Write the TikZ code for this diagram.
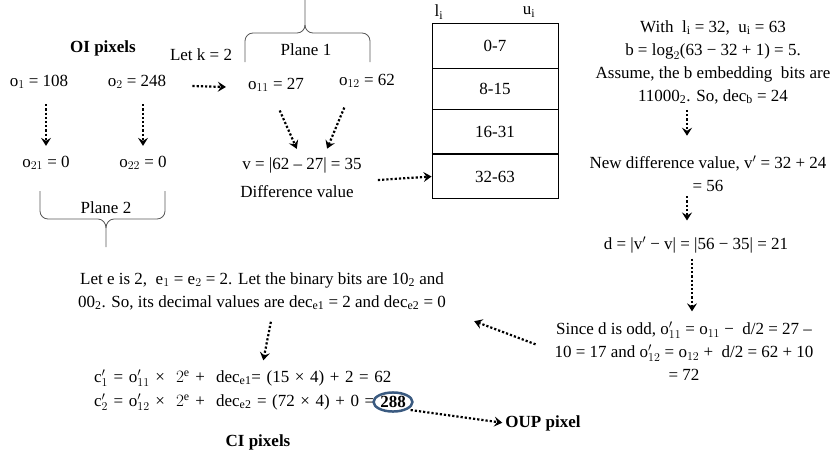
\documentclass[tikz,border=0pt]{standalone}
\usepackage{fontspec}
\setmainfont{Liberation Serif}
\usetikzlibrary{arrows.meta,shapes.geometric}
\definecolor{ringblue}{HTML}{3A5A80}
\newcommand\widesp{\spaceskip=5.6pt\relax}
\begin{document}
\begin{tikzpicture}[x=1pt, y=-1pt,
    txt/.style={inner sep=1pt, align=center, font=\fontsize{17}{23}\selectfont},
    wide/.style={txt, font=\fontsize{17}{23}\selectfont\widesp},
    bold/.style={txt, font=\fontsize{17}{23}\selectfont\bfseries},
    cell/.style={draw, line width=0.9pt, minimum width=126pt, inner sep=0pt, font=\fontsize{17}{23}\selectfont},
    dotarr/.style={line width=2.2pt, dash pattern=on 2.2pt off 2pt, -{Stealth[length=8pt,width=10pt,inset=3pt]}},
    brace/.style={draw=black!65, line width=0.8pt}]
    \useasboundingbox (0,0) rectangle (834,458);
    \node[bold] (oi) at (103,48) {OI pixels};
    \node[txt] (letk) at (201,55) {Let k = 2};
    \node[txt] (pl1) at (306,50) {Plane 1};
    \node[txt] (o1) at (39,82) {$\mathrm{o}_1$ = 108};
    \node[txt] (o2) at (137,82) {$\mathrm{o}_2$ = 248};
    \node[txt] (o11) at (276,85) {$\mathrm{o}_{11}$ = 27};
    \node[txt] (o12) at (367,81) {$\mathrm{o}_{12}$ = 62};
    \node[txt] (o21) at (46,163) {$\mathrm{o}_{21}$ = 0};
    \node[txt] (o22) at (143,163) {$\mathrm{o}_{22}$ = 0};
    \node[txt] (pl2) at (106,208) {Plane 2};
    \node[txt] (vval) at (302,165) {v = |62 -- 27| = 35};
    \node[txt] (diff) at (297,192) {Difference value};
    \draw[brace] (245,62) -- (245,41) to[out=90,in=180] (253,33) -- (297,33) to[out=0,in=-90] (305,25) -- (305,0);
    \draw[brace] (370,62) -- (370,41) to[out=90,in=0] (362,33) -- (313,33) to[out=180,in=-90] (305,25);
    \draw[brace] (40,191) -- (40,211) to[out=-90,in=180] (48,219) -- (98,219) to[out=0,in=90] (106,228) -- (106,247);
    \draw[brace] (165,191) -- (165,211) to[out=-90,in=0] (157,219) -- (114,219) to[out=180,in=90] (106,228);
    \node[cell, minimum height=45pt] (r1) at (495,45.5) {0-7};
    \node[cell, minimum height=41pt] (r2) at (495,88.5) {8-15};
    \node[cell, minimum height=45pt] (r3) at (495,131.5) {16-31};
    \node[cell, minimum height=44pt] (r4) at (495,176.5) {32-63};
    \draw[line width=1.8pt] (r4.north west) -- (r4.north east);
    \node[txt] (li) at (439,12) {$\mathrm{l_i}$};
    \node[txt] (ui) at (529,12) {$\mathrm{u_i}$};
    \node[txt] (rtop) at (713,62) {With \ $\mathrm{l_i}$ = 32, \ $\mathrm{u_i}$ = 63\\
        b = $\log_2$(63 − 32 + 1) = 5.\\
        Assume, the b embedding\ \ bits are\\
        11000\textsubscript{2}. So, dec$_\mathrm{b}$ = 24};
    \node[txt] (newdiff) at (708,174) {New difference value, $\mathrm{v}'$ = 32 + 24\\ = 56};
    \node[txt] (dline) at (696,245) {d = |$\mathrm{v}'$\ − v| = |56 − 35| = 21};
    \node[txt] (since) at (684,351) {Since d is odd, $\mathrm{o}'_{11}$ = $\mathrm{o}_{11}$ −\ \ d/2 = 27 –\\
        10 = 17 and $\mathrm{o}'_{12}$ = $\mathrm{o}_{12}$ +\ \ d/2 = 62 + 10\\ = 72};
    \node[txt] (lete) at (262,291) {Let e is 2,\ \ $\mathrm{e}_1$ = $\mathrm{e}_2$ = 2. Let the binary bits are 10\textsubscript{2} and\\
        00\textsubscript{2}. So, its decimal values are dec$_{\mathrm{e1}}$ = 2 and dec$_{\mathrm{e2}}$ = 0};
    \node[wide, anchor=west] (c1) at (93,378) {$\mathrm{c}'_1$ = $\mathrm{o}'_{11}$ ×\ \ $2^{\mathrm{e}}$ +\ \ dec$_{\mathrm{e1}}$= (15 × 4) + 2 = 62};
    \node[wide, anchor=west] (c2) at (93,402) {$\mathrm{c}'_2$ = $\mathrm{o}'_{12}$ ×\ \ $2^{\mathrm{e}}$ +\ \ dec$_{\mathrm{e2}}$ = (72 × 4) + 0 =};
    \node[bold, ellipse, draw=ringblue, line width=2.5pt, inner sep=1pt] (n288) at (393,402) {288};
    \node[bold] (ci) at (258,442) {CI pixels};
    \node[bold] (oup) at (543,423) {OUP pixel};
    \draw[dotarr] ([xshift=25pt,yshift=-4pt]o2.east) -- ([xshift=-21pt,yshift=-2pt]o11.west);
    \draw[dotarr, shorten <=14pt, shorten >=9pt] (o21 |- o1.south) -- (o21.north);
    \draw[dotarr, shorten <=14pt, shorten >=9pt] (o22 |- o2.south) -- (o22.north);
    \draw[dotarr, shorten <=19pt, shorten >=8pt] ([xshift=-4pt]o11.south) -- ([xshift=-2pt]vval.north);
    \draw[dotarr, shorten <=20pt, shorten >=8pt] ([xshift=-15pt]o12.south) -- ([xshift=22pt]vval.north);
    \draw[dotarr] ([xshift=23pt,yshift=12pt]diff.east) -- (r4.west);
    \draw[dotarr, shorten <=5pt, shorten >=19pt] ([xshift=-26pt]rtop.south) -- ([xshift=-21pt]newdiff.north);
    \draw[dotarr, shorten <=3pt, shorten >=15pt] ([xshift=-21pt]newdiff.south) -- ([xshift=-9pt]dline.north);
    \draw[dotarr, shorten <=4pt, shorten >=9pt] ([xshift=-4pt]dline.south) -- ([xshift=8pt]since.north);
    \draw[dotarr, shorten <=19pt, shorten >=29pt] (since.west) -- (lete.south east);
    \draw[dotarr, shorten <=11pt, shorten >=8pt] ([xshift=11pt]lete.south) -- ([xshift=19pt]c1.north);
    \draw[dotarr, shorten <=3pt, shorten >=2pt] (n288.south east) -- (oup.west);
\end{tikzpicture}
\end{document}
